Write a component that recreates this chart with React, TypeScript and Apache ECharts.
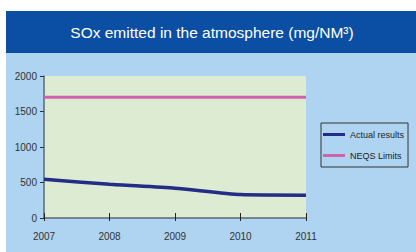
import React, { useEffect, useRef } from "react";
import * as echarts from "echarts";

const years = ["2007", "2008", "2009", "2010", "2011"];
const actualResults = [545, 475, 420, 330, 322];
const neqsLimits = [1700, 1700, 1700, 1700, 1700];
const yTicks = [0, 500, 1000, 1500, 2000];

export default function App() {
  const ref = useRef<HTMLDivElement>(null);
  useEffect(() => {
    if (!ref.current) return;
    const chart = echarts.init(ref.current, undefined, { renderer: "svg" });
    const font = "'Liberation Sans', Arial, sans-serif";
    chart.setOption({
      animation: false,
      backgroundColor: "#ffffff",
      graphic: [
        { type: "rect", silent: true, z: -10, shape: { x: 6, y: 11, width: 410, height: 42 }, style: { fill: "#0a4fa3" } },
        { type: "rect", silent: true, z: -10, shape: { x: 6, y: 53, width: 410, height: 199 }, style: { fill: "#aed4f1" } },
        {
          type: "text",
          x: 212,
          y: 32,
          style: {
            text: "SOx emitted in the atmosphere (mg/NM³)",
            fill: "#ffffff",
            font: `15.5px ${font}`,
            align: "center",
            verticalAlign: "middle",
          },
        },
      ],
      grid: {
        left: 44,
        right: 110,
        top: 76,
        bottom: 34,
        show: true,
        backgroundColor: "#dcebd1",
        borderWidth: 0,
      },
      legend: {
        orient: "vertical",
        left: 321,
        top: 123,
        padding: [7, 4, 7, 2],
        itemGap: 12,
        itemWidth: 22,
        itemHeight: 3,
        icon: "rect",
        borderColor: "#333333",
        borderWidth: 1,
        textStyle: { fontSize: 9, fontFamily: font, color: "#222222" },
        data: ["Actual results", "NEQS Limits"],
      },
      xAxis: [
        {
          type: "category",
          data: years,
          boundaryGap: false,
          axisLine: { lineStyle: { color: "#5a6870", width: 1.5 } },
          axisTick: { show: true, inside: true, length: 5, lineStyle: { color: "#222" } },
          axisLabel: { fontSize: 10, fontFamily: font, color: "#333", margin: 13 },
          splitLine: { show: false },
        },
        {
          type: "category",
          data: years,
          position: "bottom",
          boundaryGap: false,
          axisLine: { show: false },
          axisTick: { show: true, inside: false, length: 3, lineStyle: { color: "#222" } },
          axisLabel: { show: false },
          splitLine: { show: false },
        },
      ],
      yAxis: {
        type: "value",
        min: yTicks[0],
        max: yTicks[yTicks.length - 1],
        interval: 500,
        axisLine: { show: true, lineStyle: { color: "#5a6870", width: 1.5 } },
        axisTick: { show: true, length: 4, lineStyle: { color: "#333" } },
        axisLabel: {
          fontSize: 10,
          fontFamily: font,
          color: "#333",
          margin: 7,
          formatter: (v: number) => String(v),
        },
        splitLine: { show: false },
      },
      series: [
        {
          name: "Actual results",
          type: "line",
          data: actualResults,
          smooth: 0.2,
          showSymbol: false,
          symbol: "none",
          color: "#232c86",
          lineStyle: { color: "#232c86", width: 3.5 },
        },
        {
          name: "NEQS Limits",
          type: "line",
          data: neqsLimits,
          showSymbol: false,
          symbol: "none",
          color: "#d062ac",
          lineStyle: { color: "#d062ac", width: 3 },
        },
      ],
    });
    return () => chart.dispose();
  }, []);
  return (
    <div
      ref={ref}
      style={{ position: "absolute", left: 0, top: 0, width: 416, height: 252 }}
    />
  );
}
